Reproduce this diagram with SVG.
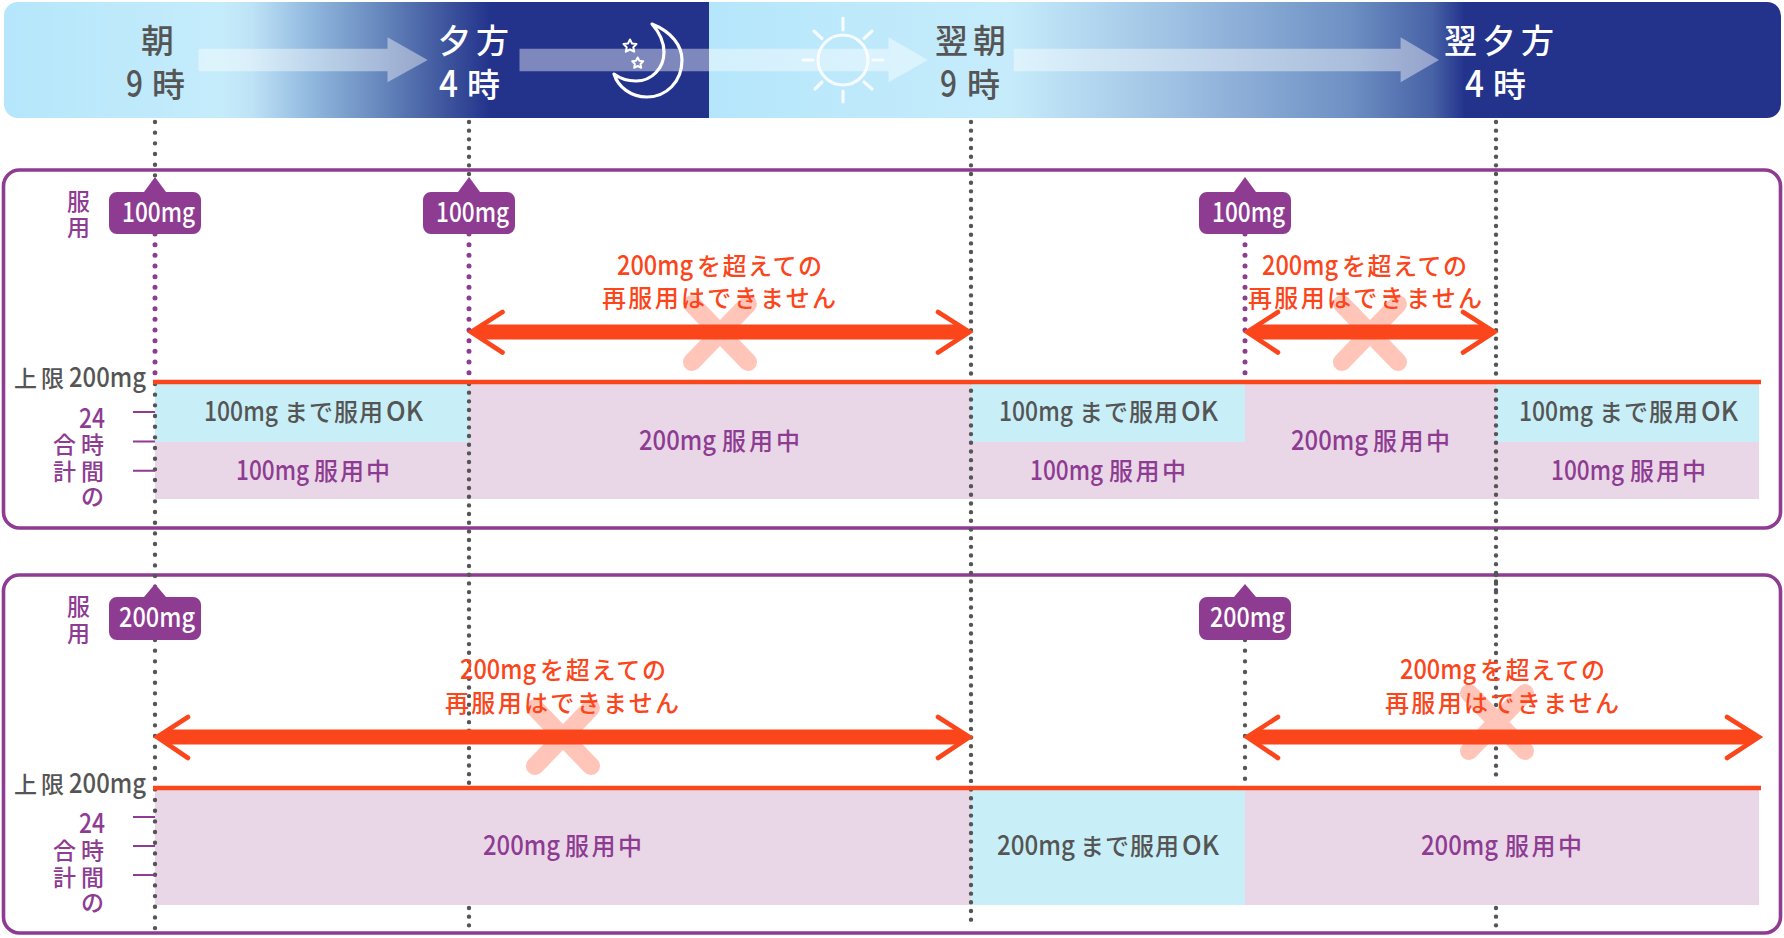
<svg xmlns="http://www.w3.org/2000/svg" width="1784" height="938" viewBox="0 0 1784 938">
<style>
text{font-family:"Noto Sans CJK JP","Noto Sans",sans-serif;font-weight:500}
.hd{font-size:33px}.hl{font-size:37px}.g{fill:#555}.w{fill:#fff}.p{fill:#8e3b92}.r{fill:#fb451b}
.m{font-size:24px}.l{font-size:27px}.lb{font-size:23px}
.pn{fill:none;stroke:#8e3b92;stroke-width:3.6}
.blue{fill:#c8eff7}.lil{fill:#e9d7e8}
.ha{fill:#fff;fill-opacity:.42}
.dg{fill:none;stroke:#555;stroke-width:4.4;stroke-linecap:round}
.dp{fill:none;stroke:#8e3b92;stroke-width:5;stroke-linecap:round;stroke-dasharray:0 10.67}
.d8{stroke-dasharray:0 8.67}.d10{stroke-dasharray:0 10.67}
.lim{stroke:#fb451b;stroke-width:4.4;fill:none}
.tick{stroke:#8e3b92;stroke-width:2;fill:none}
.x{stroke:#ffc5b8;stroke-width:18;stroke-linecap:round;fill:none}
.shaft{stroke:#fb451b;stroke-width:15;fill:none}
.chev{stroke:#fb451b;stroke-width:4.6;stroke-linecap:round;fill:none}
.tip{fill:#fb451b}
.ic{stroke:#fff;stroke-width:3.200;fill:none;stroke-linecap:round;stroke-linejoin:round}
.st{stroke:#fff;stroke-width:2;fill:none;stroke-linejoin:round}
</style>
<defs>
<linearGradient id="g1" gradientUnits="userSpaceOnUse" x1="4" x2="709" y1="0" y2="0">
<stop offset="0" stop-color="#b5e6fb"/><stop offset=".31" stop-color="#c5ecfb"/><stop offset=".35" stop-color="#bfe3f6"/><stop offset=".43" stop-color="#93bbe0"/><stop offset=".525" stop-color="#6a8cc0"/><stop offset=".62" stop-color="#41599f"/><stop offset=".69" stop-color="#23338c"/><stop offset="1" stop-color="#23338c"/>
</linearGradient>
<linearGradient id="g2" gradientUnits="userSpaceOnUse" x1="709" x2="1781" y1="0" y2="0">
<stop offset="0" stop-color="#b5e6fb"/><stop offset=".28" stop-color="#c6ecfb"/><stop offset=".44" stop-color="#9dbfe2"/><stop offset=".6" stop-color="#6d8fc3"/><stop offset=".675" stop-color="#4862a6"/><stop offset=".705" stop-color="#23338c"/><stop offset="1" stop-color="#23338c"/>
</linearGradient>
</defs>

<g id="header">
<path d="M709 2H18a14 14 0 0 0-14 14V104a14 14 0 0 0 14 14H709Z" fill="url(#g1)"/>
<path d="M709 2H1767a14 14 0 0 1 14 14V104a14 14 0 0 1-14 14H709Z" fill="url(#g2)"/>
<path class="ha" d="M198.600 48.700H387.500V37.300L427.700 60L387.500 82.300V71.300H198.600Z"/>
<path class="ha" d="M519.500 48.700H888.500V37.300L928 60L888.500 82.300V71.300H519.500Z"/>
<path class="ha" d="M1013.800 48.700H1400.600V37.300L1439 60L1400.600 82.300V71.300H1013.800Z"/>
<path class="ic" d="M652 24C672 32 682 46 682 60C682 82 666 97 647 97C631 97 618 87 614 74C622 80 630 81 636 81C652 81 664 68 664 52C664 42 659 32 652 24Z"/>
<path class="st" d="M630 39.500L632 43.500L636.500 44L633.300 47.200L634.200 51.700L630 49.500L625.800 51.700L626.700 47.200L623.500 44L628 43.500Z"/>
<path class="st" d="M637.700 57.500L639.400 60.800L643.200 61.300L640.500 64L641.200 67.800L637.700 66L634.200 67.800L634.900 64L632.200 61.300L636 60.800Z"/>
<g opacity=".85">
<circle class="ic" cx="843" cy="60" r="25"/>
<path class="ic" d="M803 60H813M873 60H883M843 18V30M843 91V102M814 31L822 38.500M872 31L864 38.500M815 89L822 82M872 89L864 82"/>
</g>
<text class="hd g" x="141" y="53">朝</text>
<text class="g" y="97"><tspan class="hl" x="126" textLength="17" lengthAdjust="spacingAndGlyphs">9</tspan> <tspan class="hd" x="152">時</tspan></text>
<text class="hd w" x="438" y="53" textLength="71">夕方</text>
<text class="w" y="97"><tspan class="hl" x="439" textLength="19" lengthAdjust="spacingAndGlyphs">4</tspan> <tspan class="hd" x="467">時</tspan></text>
<text class="hd g" x="935" y="53" textLength="71">翌朝</text>
<text class="g" y="97"><tspan class="hl" x="940" textLength="17" lengthAdjust="spacingAndGlyphs">9</tspan> <tspan class="hd" x="967">時</tspan></text>
<text class="hd w" x="1444" y="53" textLength="110">翌夕方</text>
<text class="w" y="97"><tspan class="hl" x="1465" textLength="19" lengthAdjust="spacingAndGlyphs">4</tspan> <tspan class="hd" x="1493">時</tspan></text>
</g>

<g id="panel-1">
<rect class="pn" x="3.500" y="170" width="1777" height="358" rx="16"/>
<rect class="blue" x="155" y="384" width="314" height="58"/>
<rect class="lil" x="155" y="442" width="314" height="57"/>
<rect class="lil" x="469" y="384" width="502" height="115"/>
<rect class="blue" x="971" y="384" width="274" height="58"/>
<rect class="lil" x="971" y="442" width="274" height="57"/>
<rect class="lil" x="1245" y="384" width="251" height="115"/>
<rect class="blue" x="1496" y="384" width="263" height="58"/>
<rect class="lil" x="1496" y="442" width="263" height="57"/>
</g>
<g id="panel-2">
<rect class="pn" x="3.500" y="575" width="1777" height="358" rx="16"/>
<rect class="lil" x="155" y="790" width="816" height="115"/>
<rect class="blue" x="971" y="790" width="274" height="115"/>
<rect class="lil" x="1245" y="790" width="514" height="115"/>
</g>

<g id="connectors">
<path class="dg d10" d="M155 122V177"/>
<path class="dp" d="M155 234V382"/>
<path class="dg d10" d="M155 384V590M155 640V930"/>
<path class="dg d8" d="M469 122V177"/>
<path class="dp" d="M469 234V382"/>
<path class="dg d8" d="M469 384V788M469 908V926"/>
<path class="dg d8" d="M971 122V926"/>
<path class="dp" d="M1245 234V382"/>
<path class="dg d10" d="M1245 640V788"/>
<path class="dg d8" d="M1496 122V598"/>
<path class="dg d8" d="M1496 575V782M1496 908V926"/>
<path class="lim" d="M153 382H1761"/>
<path class="lim" d="M153 788H1761"/>
<path class="tick" d="M133 412H155M133 441.500H155M133 470.700H155M133 817H155M133 846H155M133 875H155"/>
</g>

<g id="warn-1">
<path class="x" d="M692 304L748 362M748 304L692 362"/>
<path class="shaft" d="M484 332H956"/>
<path class="tip" d="M469.500 332L485 322V342ZM970.500 332L955 322V342Z"/>
<path class="chev" d="M502.500 312L471 332L502.500 352.500M938 312L969.500 332L938 352.500"/>
<text class="r" y="275"><tspan class="l" x="617" textLength="76" lengthAdjust="spacingAndGlyphs">200mg</tspan><tspan class="m" x="697" textLength="125">を超えての</tspan></text>
<text class="m r" x="602" y="307" textLength="234">再服用はできません</text>
</g>
<g id="warn-2">
<path class="x" d="M1342 304L1398 362M1398 304L1342 362"/>
<path class="shaft" d="M1260 332H1481"/>
<path class="tip" d="M1245.500 332L1261 322V342ZM1496 332L1480 322V342Z"/>
<path class="chev" d="M1278 312L1247 332L1278 352.500M1463 312L1494.500 332L1463 352.500"/>
<text class="r" y="275"><tspan class="l" x="1262" textLength="76" lengthAdjust="spacingAndGlyphs">200mg</tspan><tspan class="m" x="1342" textLength="125">を超えての</tspan></text>
<text class="m r" x="1248" y="307" textLength="234">再服用はできません</text>
</g>
<g id="warn-3">
<path class="x" d="M535 708L591 766M591 708L535 766"/>
<path class="shaft" d="M170 737H956"/>
<path class="tip" d="M155.500 737L171 727V747ZM970.500 737L955 727V747Z"/>
<path class="chev" d="M188 717L157 737L188 758M938 717L969.500 737L938 758"/>
<text class="r" y="679"><tspan class="l" x="460" textLength="76" lengthAdjust="spacingAndGlyphs">200mg</tspan><tspan class="m" x="540" textLength="126">を超えての</tspan></text>
<text class="m r" x="445" y="712" textLength="234">再服用はできません</text>
</g>
<g id="warn-4">
<path class="x" d="M1469 693L1525 751M1525 693L1469 751"/>
<path class="shaft" d="M1260 737H1745"/>
<path class="tip" d="M1245.500 737L1261 727V747ZM1760.500 737L1744 727V747Z"/>
<path class="chev" d="M1278 717L1247 737L1278 758M1727 717L1759 737L1727 758"/>
<text class="r" y="679"><tspan class="l" x="1400" textLength="76" lengthAdjust="spacingAndGlyphs">200mg</tspan><tspan class="m" x="1480" textLength="125">を超えての</tspan></text>
<text class="m r" x="1385" y="712" textLength="234">再服用はできません</text>
</g>

<g id="badges">
<g id="badge-1"><path class="p" d="M117 192H144L155 177L166 192H193a8 8 0 0 1 8 8V226a8 8 0 0 1-8 8H117a8 8 0 0 1-8-8V200a8 8 0 0 1 8-8Z"/><text class="l w" x="122" y="221.500" textLength="73" lengthAdjust="spacingAndGlyphs">100mg</text></g>
<g id="badge-2"><path class="p" d="M431 192H458L469 177L480 192H507a8 8 0 0 1 8 8V226a8 8 0 0 1-8 8H431a8 8 0 0 1-8-8V200a8 8 0 0 1 8-8Z"/><text class="l w" x="436" y="221.500" textLength="73" lengthAdjust="spacingAndGlyphs">100mg</text></g>
<g id="badge-3"><path class="p" d="M1207 192H1234L1245 177L1256 192H1283a8 8 0 0 1 8 8V226a8 8 0 0 1-8 8H1207a8 8 0 0 1-8-8V200a8 8 0 0 1 8-8Z"/><text class="l w" x="1212" y="221.500" textLength="73" lengthAdjust="spacingAndGlyphs">100mg</text></g>
<g id="badge-4"><path class="p" d="M117 597H144L155 584L166 597H193a8 8 0 0 1 8 8V632a8 8 0 0 1-8 8H117a8 8 0 0 1-8-8V605a8 8 0 0 1 8-8Z"/><text class="l w" x="119" y="627" textLength="76" lengthAdjust="spacingAndGlyphs">200mg</text></g>
<g id="badge-5"><path class="p" d="M1207 597H1234L1245 584L1256 597H1283a8 8 0 0 1 8 8V632a8 8 0 0 1-8 8H1207a8 8 0 0 1-8-8V605a8 8 0 0 1 8-8Z"/><text class="l w" x="1210" y="627" textLength="75" lengthAdjust="spacingAndGlyphs">200mg</text></g>
</g>

<g id="labels-1">
<text class="lb p"><tspan x="67" y="210">服</tspan><tspan x="67" y="236">用</tspan></text>
<text class="g" y="387"><tspan class="lb" x="14" textLength="50">上限</tspan> <tspan class="l" x="69" textLength="77" lengthAdjust="spacingAndGlyphs">200mg</tspan></text>
<text class="lb p"><tspan class="l" x="79" y="428" textLength="26" lengthAdjust="spacingAndGlyphs">24</tspan><tspan x="81" y="453">時</tspan><tspan x="81" y="480">間</tspan><tspan x="81" y="505">の</tspan></text>
<text class="lb p"><tspan x="53" y="453">合</tspan><tspan x="53" y="480">計</tspan></text>
</g>
<g id="labels-2">
<text class="lb p"><tspan x="67" y="615">服</tspan><tspan x="67" y="642">用</tspan></text>
<text class="g" y="793"><tspan class="lb" x="14" textLength="50">上限</tspan> <tspan class="l" x="69" textLength="77" lengthAdjust="spacingAndGlyphs">200mg</tspan></text>
<text class="lb p"><tspan class="l" x="79" y="833" textLength="26" lengthAdjust="spacingAndGlyphs">24</tspan><tspan x="81" y="859">時</tspan><tspan x="81" y="886">間</tspan><tspan x="81" y="911">の</tspan></text>
<text class="lb p"><tspan x="53" y="859">合</tspan><tspan x="53" y="886">計</tspan></text>
</g>

<g id="cell-labels">
<text class="g" y="421"><tspan class="l" x="204" textLength="74" lengthAdjust="spacingAndGlyphs">100mg</tspan><tspan class="m" x="284" textLength="99">まで服用</tspan><tspan class="l" x="386" textLength="37" lengthAdjust="spacingAndGlyphs">OK</tspan></text>
<text class="p" y="480"><tspan class="l" x="236" textLength="73" lengthAdjust="spacingAndGlyphs">100mg</tspan><tspan class="m" x="314" textLength="76">服用中</tspan></text>
<text class="p" y="450"><tspan class="l" x="639" textLength="77" lengthAdjust="spacingAndGlyphs">200mg</tspan><tspan class="m" x="722" textLength="78">服用中</tspan></text>
<text class="g" y="421"><tspan class="l" x="999" textLength="74" lengthAdjust="spacingAndGlyphs">100mg</tspan><tspan class="m" x="1079" textLength="99">まで服用</tspan><tspan class="l" x="1181" textLength="37" lengthAdjust="spacingAndGlyphs">OK</tspan></text>
<text class="p" y="480"><tspan class="l" x="1030" textLength="73" lengthAdjust="spacingAndGlyphs">100mg</tspan><tspan class="m" x="1109" textLength="77">服用中</tspan></text>
<text class="p" y="450"><tspan class="l" x="1291" textLength="77" lengthAdjust="spacingAndGlyphs">200mg</tspan><tspan class="m" x="1373" textLength="77">服用中</tspan></text>
<text class="g" y="421"><tspan class="l" x="1519" textLength="74" lengthAdjust="spacingAndGlyphs">100mg</tspan><tspan class="m" x="1599" textLength="99">まで服用</tspan><tspan class="l" x="1701" textLength="37" lengthAdjust="spacingAndGlyphs">OK</tspan></text>
<text class="p" y="480"><tspan class="l" x="1551" textLength="73" lengthAdjust="spacingAndGlyphs">100mg</tspan><tspan class="m" x="1630" textLength="76">服用中</tspan></text>
<text class="p" y="855"><tspan class="l" x="483" textLength="77" lengthAdjust="spacingAndGlyphs">200mg</tspan><tspan class="m" x="565" textLength="77">服用中</tspan></text>
<text class="g" y="855"><tspan class="l" x="997" textLength="78" lengthAdjust="spacingAndGlyphs">200mg</tspan><tspan class="m" x="1080" textLength="99">まで服用</tspan><tspan class="l" x="1182" textLength="37" lengthAdjust="spacingAndGlyphs">OK</tspan></text>
<text class="p" y="855"><tspan class="l" x="1421" textLength="77" lengthAdjust="spacingAndGlyphs">200mg</tspan> <tspan class="m" x="1505" textLength="77">服用中</tspan></text>
</g>
</svg>
